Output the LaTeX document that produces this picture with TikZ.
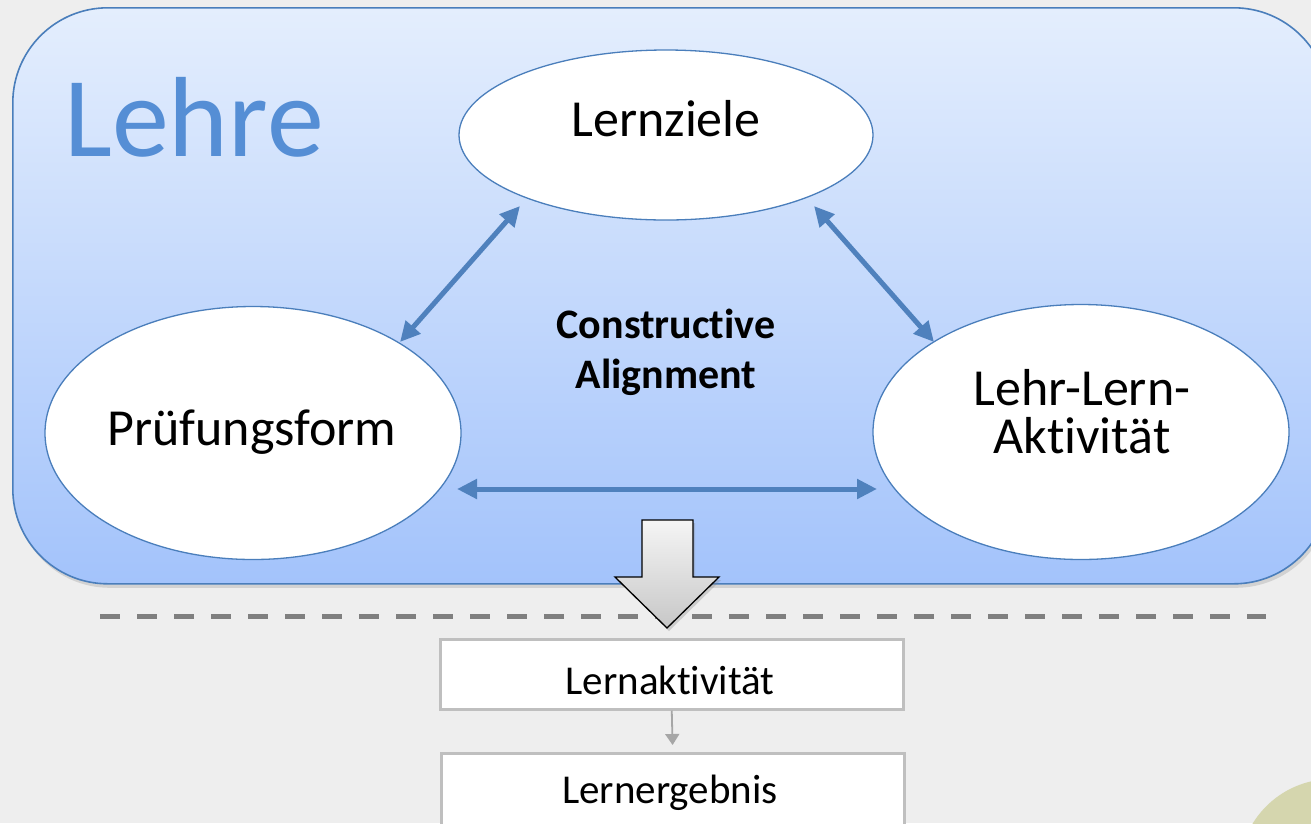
\documentclass[tikz,border=0pt]{standalone}
\usepackage{fontspec}
\setmainfont{Carlito}[Ligatures=NoCommon]
\usetikzlibrary{arrows.meta,shapes.geometric,shadows}

\definecolor{bg}{HTML}{EEEEEE}
\definecolor{frameblue}{HTML}{4A7EBB}
\definecolor{arrowblue}{HTML}{4F81BD}
\definecolor{lehreblue}{HTML}{558ED5}
\definecolor{gradtop}{HTML}{E4EEFD}
\definecolor{gradbot}{HTML}{A3C3FB}
\definecolor{boxgray}{HTML}{BFBFBF}
\definecolor{dashgray}{HTML}{7F7F7F}
\definecolor{smallarrow}{HTML}{A6A6A6}
\definecolor{olivedot}{HTML}{D5D6AE}

\tikzset{
  bubble/.style={ellipse, draw=frameblue, line width=1.3pt, fill=white, inner sep=0pt},
  bubbletext/.style={anchor=base, inner sep=0pt, font=\fontsize{52}{48}\selectfont},
  boldtext/.style={anchor=base, inner sep=0pt, font=\fontsize{42}{50}\selectfont\bfseries},
  dblarrow/.style={arrowblue, line width=5pt,
    {Triangle[length=20pt,width=19pt]}-{Triangle[length=20pt,width=19pt]}},
  flowbox/.style={draw=boxgray, fill=white, line width=2.5pt, inner sep=0pt,
    anchor=north west, minimum width=463pt},
  flowtext/.style={anchor=base, inner sep=0pt, font=\fontsize{41}{45}\selectfont},
}

\begin{document}
\begin{tikzpicture}[x=1pt,y=-1pt]
  % canvas
  \useasboundingbox (0,0) rectangle (1311,823);
  \fill[bg] (0,0) rectangle (1311,823);

  % decorative dot in the corner
  \fill[olivedot] (1332,872) circle (93);

  % teaching frame
  \node (frame) [draw=frameblue, line width=1.6pt, rounded corners=95pt,
    top color=gradtop, bottom color=gradbot,
    drop shadow={opacity=0.25, shadow xshift=2pt, shadow yshift=-4pt},
    minimum width=1316pt, minimum height=576pt, anchor=north west, inner sep=0pt]
    at (12,7) {};
  \node (lehre) [anchor=base west, text=lehreblue, inner sep=0pt,
    font=\fontsize{114}{114}\selectfont] at (64,156) {Lehre};

  % the three corners of the alignment triangle
  \node (lz) [bubble, minimum width=414pt, minimum height=170pt] at (666,135) {};
  \node (pf) [bubble, minimum width=416pt, minimum height=253pt] at (253,433) {};
  \node (la) [bubble, minimum width=416pt, minimum height=255pt] at (1081,432) {};

  \node (lztext) [bubbletext] at (666,136) {Lernziele};
  \node (pftext) [bubbletext] at (252,445) {Prüfungsform};
  \node (latext) [bubbletext, align=center] at (1082,453) {Lehr-Lern-\\Aktivität};

  \node (catext) [boldtext, align=center] at (666,388) {Constructive\\Alignment};

  % mutual links
  \draw[dblarrow] ([shift={(147,-91)}]pf.center) -- ([shift={(-146,71)}]lz.center);
  \draw[dblarrow] ([shift={(148,71)}]lz.center) -- ([shift={(-147,-90)}]la.center);
  \draw[dblarrow] ([shift={(204,56)}]pf.center) -- ([shift={(-204,57)}]la.center);

  % separator
  \draw[dashgray, line width=5pt, dash pattern=on 20pt off 17pt] (100,616) -- (1266,616);

  % learner side
  \node (lakt) [flowbox, minimum height=70pt] at (439,638) {};
  \node (lerg) [flowbox, minimum height=100pt] at (440,752) {};
  \node (lakttext) [flowtext] at (670,694) {Lernaktivität};
  \node (lergtext) [flowtext] at (670,803) {Lernergebnis};
  \draw[smallarrow, line width=1.8pt, -{Triangle[length=11pt,width=14pt]},
    shorten >=7pt] (lakt.south) -- (lerg.north);

  % block arrow from teaching to learning
  \draw[black, line width=1.3pt, line join=miter,
    top color=white!96!black, bottom color=black!22,
    drop shadow={opacity=0.3, shadow xshift=2pt, shadow yshift=-3pt}]
    (642,520) -- (693,520) -- (693,577) -- (719,577) -- (667,628)
    -- (615,577) -- (642,577) -- cycle;
\end{tikzpicture}
\end{document}
